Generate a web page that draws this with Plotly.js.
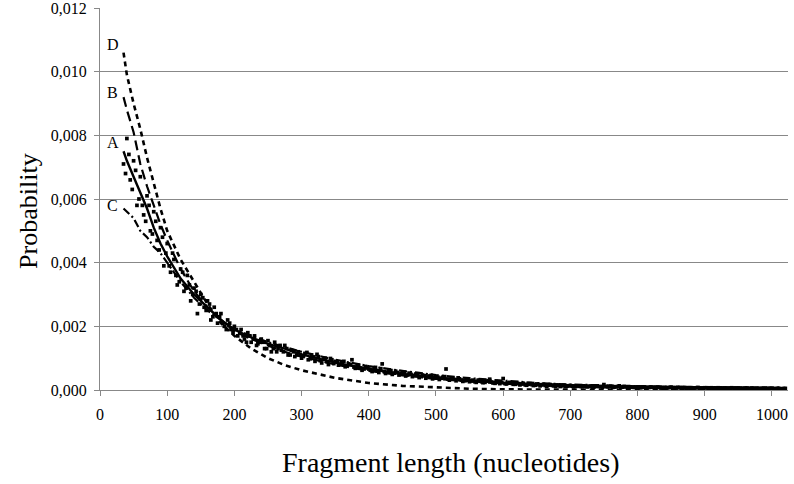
<!DOCTYPE html>
<html>
<head>
<meta charset="utf-8">
<script src="https://cdn.plot.ly/plotly-3.0.1.min.js"></script>
<style>html,body{margin:0;padding:0;background:#fff;}#chart{width:794px;height:484px;}</style>
</head>
<body>
<div id="chart"></div>
<script>
// Fitted curves (fragment length, probability)
const curveX = [35,40,50,60,70,80,90,100,120,140,160,180,200,225,250,275,300,350,400,450,500,550,600,650,700,750,800,850,900,950,1000,1020];
const curveA = [0.0075,0.0072,0.0067,0.0062,0.0057,0.0051,0.0046,0.0042,0.0035,0.0030,0.0026,0.0022,0.0019,0.00165,0.00145,0.0013,0.00112,0.00086,0.00066,0.0005,0.00039,0.0003,0.00023,0.00018,0.00014,0.00012,0.0001,0.00009,0.00008,0.00007,0.00006,0.00006];
const curveB = [0.0092,0.0088,0.0081,0.0071,0.0064,0.0058,0.0052,0.0047,0.0038,0.0031,0.0026,0.0022,0.00185,0.0016,0.0014,0.0012,0.00105,0.0008,0.0006,0.00046,0.00035,0.00027,0.0002,0.00016,0.00013,0.0001,0.00009,0.00008,0.00007,0.00006,0.00005,0.00005];
const curveC = [0.0057,0.0056,0.0054,0.0050,0.0048,0.0045,0.0043,0.0040,0.0034,0.0029,0.0025,0.0022,0.0019,0.0017,0.0015,0.00135,0.0012,0.00095,0.00075,0.0006,0.00047,0.00037,0.00029,0.00022,0.00017,0.00014,0.00012,0.0001,0.00009,0.00008,0.00007,0.00007];
const curveD = [0.0106,0.0099,0.0090,0.0082,0.0073,0.0065,0.0057,0.0050,0.0041,0.0034,0.0027,0.0021,0.0017,0.0013,0.001,0.00078,0.00062,0.00038,0.00022,0.00013,0.00008,0.00004,0.00002,0.00001,0.000005,0.000003,0.000002,0.000001,0.000001,0,0,0];
const curveLabels = ["A","B","C","D"];

// Observed frequencies (scatter)
const obsX1 = [35,40,45,50,55,60,65,70,75,80,85,90,95,100,105,110,115,120,125,130,135,140,145,150,155,160,165,170,175,180,185,190,195,200,205,210,215,220,225,230,235,240,245,250,255,260,265,270,275,280,285,290,295,300,305,310,315,320,325,330,335,340,345,350,355,360,365,370,375,380,385,390,395,400,405,410,415,420,425,430,435,440,445,450,455,460,465,470,475,480,485,490,495,500,505,510,515,520,525,530,535,540,545,550,555,560,565,570,575,580,585,590,595,600,605,610,615,620,625,630,635,640,645,650,655,660,665,670,675,680,685,690,695,700,705,710,715,720,725,730,735,740,745,750,755,760,765,770,775,780,785,790,795,800,805,810,815,820,825,830,835,840,845,850,855,860,865,870,875,880,885,890,895,900,905,910,915,920,925,930,935,940,945,950,955,960,965,970,975,980,985,990,995,1000,1005,1010,1015,1020];
const obsY1 = [0.0071,0.0079,0.0066,0.0072,0.0058,0.0067,0.0055,0.0061,0.0050,0.0056,0.0047,0.0051,0.0039,0.0046,0.0037,0.0041,0.0033,0.0038,0.0031,0.0036,0.0028,0.0032,0.0024,0.0030,0.0026,0.0028,0.0022,0.0026,0.0021,0.0024,0.0020,0.0022,0.0019,0.0020,0.0017,0.0019,0.0016,0.0018,0.0015,0.0017,0.00145,0.0016,0.0013,0.00155,0.0012,0.0015,0.0013,0.00125,0.0014,0.0011,0.00125,0.00105,0.0012,0.0010,0.00115,0.00095,0.0011,0.0009,0.00105,0.00085,0.001,0.0008,0.00095,0.0009,0.00078,0.00088,0.00073,0.00082,0.00095,0.00068,0.00078,0.00062,0.00074,0.00066,0.00058,0.00071,0.00055,0.00082,0.00052,0.00063,0.00049,0.00059,0.00047,0.00055,0.00044,0.00053,0.00042,0.0005,0.00039,0.00047,0.00037,0.00044,0.00035,0.00042,0.00033,0.0004,0.00066,0.00031,0.00037,0.00029,0.00035,0.00027,0.00033,0.00026,0.00031,0.00024,0.0003,0.00023,0.00028,0.00034,0.00022,0.00027,0.0002,0.00036,0.00019,0.00024,0.00018,0.00022,0.00016,0.00021,0.00015,0.0002,0.00014,0.00019,0.00013,0.00018,0.00012,0.00017,0.00013,0.00016,0.00011,0.00015,0.00012,0.00014,0.0001,0.00013,0.00011,0.00013,0.0001,0.00012,0.00009,0.00013,0.0001,0.00017,0.0001,0.00012,0.00009,0.00011,0.00008,0.00011,0.00009,0.0001,0.00008,0.0001,0.00007,0.00009,0.00008,0.00009,0.00007,0.00009,0.00006,0.00008,0.00007,0.00009,0.00006,0.00008,0.00006,0.00008,0.00006,0.00007,0.00006,0.00008,0.00005,0.00007,0.00006,0.00007,0.00005,0.00007,0.00005,0.00006,0.00005,0.00007,0.00005,0.00006,0.00004,0.00006,0.00005,0.00006,0.00004,0.00005,0.00005,0.00006,0.00004,0.00005,0.00004,0.00005,0.00004,0.00005];
const obsX2 = [38,43,48,53,58,63,68,73,78,83,88,93,98,103,108,113,118,123,128,133,138,143,148,153,158,163,168,173,178,183,188,193,198,203,208,213,218,223,228,233,238,243,248,253,258,263,268,273,278,283,288,293,298];
const obsY2 = [0.0068,0.0074,0.0063,0.0069,0.0060,0.0058,0.0053,0.0058,0.0049,0.0053,0.0044,0.0048,0.0043,0.0039,0.0043,0.0036,0.0034,0.0037,0.0032,0.0033,0.0030,0.0031,0.0027,0.0029,0.0025,0.0027,0.0023,0.0024,0.0023,0.0021,0.0019,0.0021,0.0018,0.0019,0.0018,0.0017,0.0015,0.0017,0.0016,0.0014,0.0015,0.0015,0.0013,0.0014,0.0013,0.0012,0.0014,0.0012,0.0013,0.0011,0.0012,0.0011,0.0011];
const obsX3 = [303,308,313,318,323,328,333,338,343,348,353,358,363,368,373,378,383,388,393,398,403,408,413,418,423,428,433,438,443,448,453,458,463,468,473,478,483,488,493,498,503,508,513,518,523,528,533,538,543,548,553,558,563,568,573,578,583,588,593,598,603,608,613,618,623,628,633,638,643,648,653,658,663,668,673,678,683,688,693,698,703,708,713,718,723,728,733,738,743,748,753,758,763,768,773,778,783,788,793,798,803,808,813,818,823,828,833,838,843,848,853,858,863,868,873,878,883,888,893,898,903,908,913,918,923,928,933,938,943,948,953,958,963,968,973,978,983,988,993,998,1003,1008,1013,1018];
const obsY3 = [0.00108,0.00118,0.00098,0.00104,0.00112,0.00092,0.00097,0.00089,0.00099,0.00083,0.00088,0.00081,0.0009,0.00076,0.0008,0.00072,0.00079,0.00069,0.00066,0.00072,0.00063,0.00065,0.00061,0.00067,0.00058,0.00056,0.00061,0.00053,0.00055,0.00051,0.00056,0.00047,0.00049,0.00046,0.00051,0.00043,0.00045,0.00041,0.00046,0.00038,0.0004,0.00037,0.00042,0.00034,0.00036,0.00033,0.00038,0.00031,0.00029,0.00034,0.00028,0.00026,0.00031,0.00026,0.00024,0.00029,0.00025,0.00021,0.00026,0.00023,0.0002,0.00022,0.00021,0.00018,0.0002,0.00019,0.00016,0.00018,0.00017,0.00015,0.00017,0.00016,0.00014,0.00015,0.00015,0.00012,0.00014,0.00013,0.00011,0.00013,0.00012,0.00011,0.00012,0.0001,0.00011,0.00011,0.00009,0.00011,0.00011,0.00009,0.00011,0.0001,0.00008,0.0001,0.00013,0.00009,0.0001,0.00008,0.00009,0.00009,0.00008,0.00009,0.00007,0.00008,0.00009,0.00007,0.00008,0.00007,0.00006,0.00008,0.00007,0.00006,0.00008,0.00007,0.00005,0.00007,0.00006,0.00007,0.00006,0.00005,0.00007,0.00006,0.00005,0.00006,0.00006,0.00004,0.00006,0.00005,0.00006,0.00005,0.00004,0.00005,0.00006,0.00004,0.00005,0.00005,0.00004,0.00005,0.00004,0.00005,0.00004,0.00005,0.00004,0.00004];

// label anchor points (x, y) for curve names
const labelX = [19,19,19,19];
const labelY = [0.00776,0.00936,0.0058,0.01084];

const FONT = "Liberation Serif";

const traces = [
  {x: obsX1.concat(obsX2, obsX3), y: obsY1.concat(obsY2, obsY3), mode: "markers", type: "scatter",
   marker: {symbol: "square", size: 3.7, color: "#000"}, hoverinfo: "skip"},
  {x: curveX, y: curveD, mode: "lines", line: {color: "#000", width: 2.6, dash: "5px,4px"}},
  {x: curveX, y: curveB, mode: "lines", line: {color: "#000", width: 2.2, dash: "10px,5px"}},
  {x: curveX, y: curveC, mode: "lines", line: {color: "#000", width: 2.2, dash: "8px,3px,2px,3px"}},
  {x: curveX, y: curveA, mode: "lines", line: {color: "#000", width: 2.4}}
];

const annotations = curveLabels.map((t, i) => ({
  x: labelX[i], y: labelY[i], xref: "x", yref: "y", text: t, showarrow: false,
  font: {family: FONT, size: 16, color: "#000"}
}));
annotations.push({
  text: "Probability", textangle: -90, showarrow: false,
  xref: "paper", yref: "paper", x: -0.104, y: 0.47, xanchor: "center", yanchor: "middle",
  font: {family: FONT, size: 26, color: "#000"}
});
annotations.push({
  text: "Fragment length (nucleotides)", showarrow: false,
  xref: "paper", yref: "paper", x: 0.51, y: -0.191, xanchor: "center", yanchor: "middle",
  font: {family: FONT, size: 28, color: "#000"}
});

const layout = {
  width: 794, height: 484,
  margin: {l: 100, r: 6, t: 8, b: 94},
  paper_bgcolor: "#fff", plot_bgcolor: "#fff",
  showlegend: false,
  separators: ",.",
  font: {family: FONT, color: "#000"},
  xaxis: {
    range: [0, 1024], tickvals: [0,100,200,300,400,500,600,700,800,900,1000],
    ticks: "outside", ticklen: 5, tickcolor: "#888", tickwidth: 1,
    showgrid: false, zeroline: false, showline: true, linecolor: "#888", linewidth: 1,
    tickfont: {family: FONT, size: 16, color: "#000"}, ticklabelstandoff: 5, ticklabeloverflow: "allow"
  },
  yaxis: {
    range: [0, 0.012], tickvals: [0,0.002,0.004,0.006,0.008,0.010,0.012], tickformat: ".3f",
    ticks: "outside", ticklen: 5, tickcolor: "#888", tickwidth: 1,
    showgrid: true, gridcolor: "#888", gridwidth: 1,
    zeroline: false, showline: true, linecolor: "#888", linewidth: 1,
    tickfont: {family: FONT, size: 16, color: "#000"}, ticklabelstandoff: 4, ticklabeloverflow: "allow"
  },
  annotations: annotations
};

Plotly.newPlot("chart", traces, layout, {displayModeBar: false, staticPlot: true});
</script>
</body>
</html>
